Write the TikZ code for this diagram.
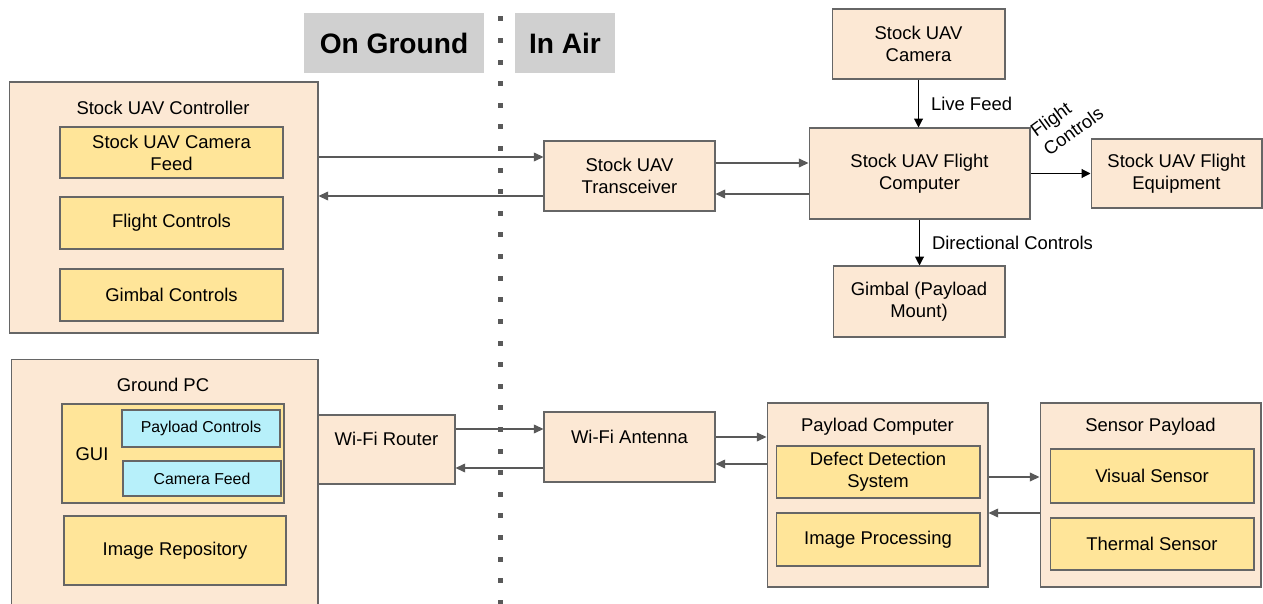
\documentclass[tikz,border=0pt]{standalone}
\usepackage{fontspec}
\setmainfont{Liberation Sans}
\usetikzlibrary{arrows.meta}

\definecolor{peach}{HTML}{FCE8D4}
\definecolor{butter}{HTML}{FFE599}
\definecolor{aqua}{HTML}{B7F0FA}
\definecolor{hdrgray}{HTML}{D0D0D0}
\definecolor{edgegray}{HTML}{666666}
\definecolor{wire}{HTML}{595959}

\begin{document}
\begin{tikzpicture}[x=0.02cm,y=-0.02cm,
                  font=\fontsize{10.5}{12.5}\selectfont,
                  outer/.style={draw=edgegray,fill=peach,line width=0.6pt,inner sep=0pt,align=center},
                  inner/.style={draw=edgegray,fill=butter,line width=0.6pt,inner sep=0pt,align=center},
                  guibox/.style={draw=edgegray,fill=aqua,line width=0.6pt,inner sep=0pt,font=\fontsize{9}{11}\selectfont},
                  hdr/.style={fill=hdrgray,minimum height=1.2cm,inner sep=0pt,font=\fontsize{16}{19}\selectfont\bfseries},
                  link/.style={draw=wire,line width=0.7pt,-{Triangle[length=5.5pt,width=5pt]}},
                  ctl/.style={draw=black,line width=0.6pt,-{Triangle[length=5pt,width=5pt]}},
                  lbl/.style={midway,anchor=west,inner sep=0pt,xshift=0.24cm},
                  tilted/.style={rotate=36,anchor=base west,inner sep=0pt}]
                  \useasboundingbox (0,0) rectangle (1263,604);
                  \clip (0,0) rectangle (1263,604);
                  \node[hdr,minimum width=3.6cm] (ground) at (394,43) {On Ground};
                  \node[hdr,minimum width=2cm] (air) at (565,43) {In Air};
                  \foreach \k in {0,...,27}
                      \fill[wire] (497.5,{16.5+21.6*\k}) rectangle ++(5,5);

                  \node[outer,minimum width=6.18cm,minimum height=5.02cm] (ctrl) at (163.5,207.5) {};
                  \node (ctrltitle) at (163,108) {Stock UAV Controller};
                  \node[inner,minimum width=4.46cm,minimum height=1.02cm] (camfeed) at (171.5,152.5) {Stock UAV Camera\\Feed};
                  \node[inner,minimum width=4.46cm,minimum height=1.04cm] (flightctl) at (171.5,223) {Flight Controls};
                  \node[inner,minimum width=4.46cm,minimum height=1.04cm] (gimbalctl) at (171.5,295) {Gimbal Controls};

                  \node[outer,minimum width=3.42cm,minimum height=1.4cm] (trx) at (629.5,176) {Stock UAV\\Transceiver};
                  \node[outer,minimum width=4.42cm,minimum height=1.82cm] (fc) at (919.5,173.5) {Stock UAV Flight\\Computer};
                  \node[outer,minimum width=3.46cm,minimum height=1.4cm] (cam) at (918.5,44) {Stock UAV\\Camera};
                  \node[outer,minimum width=3.42cm,minimum height=1.38cm] (equip) at (1176.5,173.5) {Stock UAV Flight\\Equipment};
                  \node[outer,minimum width=3.44cm,minimum height=1.42cm] (gimbal) at (919,301.5) {Gimbal (Payload\\Mount)};

                  \draw[link] (ctrl.east |- 0,157) -- (trx.west |- 0,157);
                  \draw[link] (trx.west |- 0,196) -- (ctrl.east |- 0,196);
                  \draw[link] (trx.east |- 0,163) -- (fc.west |- 0,163);
                  \draw[link] (fc.west |- 0,194) -- (trx.east |- 0,194);
                  \draw[ctl] (cam.south) -- node[lbl] (livelbl) {Live Feed} (cam.south |- fc.north);
                  \draw[ctl] (fc.south) -- node[lbl] (dirlbl) {Directional Controls} (fc.south |- gimbal.north);
                  \draw[ctl] (fc.east) -- (equip.west);
                  \node[tilted] (fclbla) at (1036,138) {Flight};
                  \node[tilted] (fclblb) at (1049,157) {Controls};

                  \node[outer,minimum width=6.14cm,minimum height=6cm,anchor=north] (gpc) at (164.5,359) {};
                  \node (gpctitle) at (163,385) {Ground PC};
                  \node[inner,minimum width=4.44cm,minimum height=1.98cm] (gui) at (173,453.5) {};
                  \node (guititle) at (92,454) {GUI};
                  \node[guibox,minimum width=3.16cm,minimum height=0.74cm] (payctl) at (201,428.5) {Payload Controls};
                  \node[guibox,minimum width=3.16cm,minimum height=0.7cm] (guifeed) at (202,478.5) {Camera Feed};
                  \node[inner,minimum width=4.44cm,minimum height=1.38cm] (repo) at (175,550.5) {Image Repository};

                  \node[outer,minimum width=2.74cm,minimum height=1.38cm] (router) at (386.5,449.5) {};
                  \node (routertext) at (386.5,439) {Wi-Fi Router};
                  \node[outer,minimum width=3.42cm,minimum height=1.4cm] (ant) at (629.5,447) {};
                  \node (anttext) at (629.5,437) {Wi-Fi Antenna};

                  \node[outer,minimum width=4.42cm,minimum height=3.68cm] (pcomp) at (877.5,495) {};
                  \node (pcomptitle) at (877.5,427) {Payload Computer};
                  \node[inner,minimum width=4.08cm,minimum height=1.04cm] (defect) at (878,472) {Defect Detection\\System};
                  \node[inner,minimum width=4.08cm,minimum height=1.06cm] (improc) at (878,539.5) {Image Processing};

                  \node[outer,minimum width=4.42cm,minimum height=3.68cm] (sensp) at (1150.5,495) {};
                  \node (sensptitle) at (1150.5,427) {Sensor Payload};
                  \node[inner,minimum width=4.08cm,minimum height=1.08cm] (vis) at (1152,476) {Visual Sensor};
                  \node[inner,minimum width=4.08cm,minimum height=1.04cm] (therm) at (1152,544) {Thermal Sensor};

                  \draw[link] (router.east |- 0,429) -- (ant.west |- 0,429);
                  \draw[link] (ant.west |- 0,468) -- (router.east |- 0,468);
                  \draw[link] (ant.east |- 0,437) -- (pcomp.west |- 0,437);
                  \draw[link] (pcomp.west |- 0,464) -- (ant.east |- 0,464);
                  \draw[link] (pcomp.east |- 0,477) -- (sensp.west |- 0,477);
                  \draw[link] (sensp.west |- 0,513) -- (pcomp.east |- 0,513);
              \end{tikzpicture}
\end{document}
